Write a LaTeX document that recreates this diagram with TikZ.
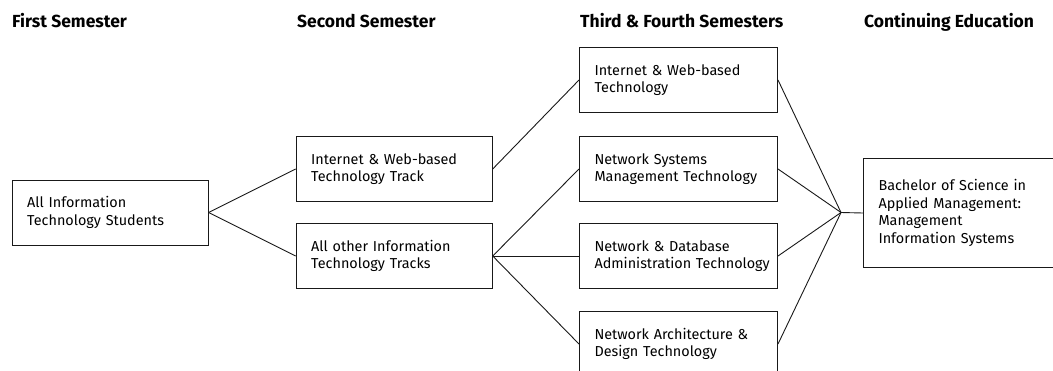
\documentclass[tikz,border=0pt]{standalone}
\usepackage{fontspec}
\setmainfont{Fira Sans}
\begin{document}
\begin{tikzpicture}[x=1pt,y=-1pt,
  box/.style={draw=black!90, line width=1pt, align=left, anchor=north west,
    inner xsep=15pt, inner ysep=0pt, minimum height=65pt,
    font=\fontsize{14.4}{17.5}\selectfont},
  head/.style={anchor=base west, inner sep=0pt, font=\fontsize{17.5}{19}\selectfont\bfseries},
  link/.style={draw=black!90, line width=0.9pt}]
\useasboundingbox (0,0) rectangle (1053,370);
\clip (0,0) rectangle (1053,370);
% headers
\node[head] (h1) at (12,27) {First Semester};
\node[head] (h2) at (297,27) {Second Semester};
\node[head] (h3) at (580,27) {Third \& Fourth Semesters};
\node[head] (h4) at (864,27) {Continuing Education};
% boxes
\node[box, text width=166pt] (b1) at (11.7,179.5) {All Information\\Technology Students};
\node[box, text width=166pt] (b2a) at (295.7,136) {Internet \& Web-based\\Technology Track};
\node[box, text width=166pt] (b2b) at (295.7,223) {All other Information\\Technology Tracks};
\node[box, text width=168pt] (b3a) at (579,47) {Internet \& Web-based\\Technology};
\node[box, text width=168pt] (b3b) at (579,136) {Network Systems\\Management Technology};
\node[box, text width=168pt] (b3c) at (579,223) {Network \& Database\\\mbox{Administration Technology}};
\node[box, text width=168pt] (b3d) at (579,311) {Network Architecture \&\\Design Technology};
\node[box, text width=180pt, minimum height=109pt] (b4) at (863,158) {Bachelor of Science in\\Applied Management:\\Management\\Information Systems};
\coordinate (j) at (841,212.5);
% connectors
\draw[link] (b1.east) -- (b2a.west);
\draw[link] (b1.east) -- (b2b.west);
\draw[link] (b2a.east) -- (b3a.west);
\draw[link] (b2b.east) -- (b3b.west);
\draw[link] (b2b.east) -- (b3c.west);
\draw[link] (b2b.east) -- (b3d.west);
\draw[link] (b3a.east) -- (j);
\draw[link] (b3b.east) -- (j);
\draw[link] (b3c.east) -- (j);
\draw[link] (b3d.east) -- (j);
\draw[link] (j) -- (b4.west);
\end{tikzpicture}
\end{document}
